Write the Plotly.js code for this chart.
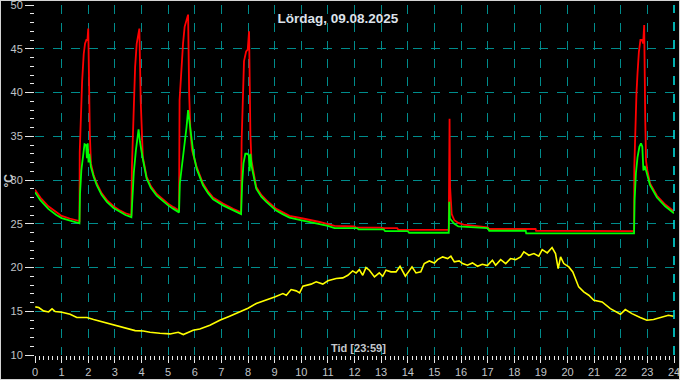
<!DOCTYPE html>
<html>
<head>
<meta charset="utf-8">
<script src="https://cdn.plot.ly/plotly-3.0.1.min.js"></script>
<style>
  html, body { margin: 0; padding: 0; background: #000; }
  #wrap { width: 680px; height: 380px; box-sizing: border-box; border: 1px solid #d4d4d4; background: #000; }
  #chart { width: 678px; height: 378px; }
</style>
</head>
<body>
<div id="wrap"><div id="chart"></div></div>
<script>
// ---- data (hours of day, °C) ----
const titleText = "Lördag, 09.08.2025";
const xLabelText = "Tid [23:59]";
const yLabelText = "°C";

const hourTicks = [0,1,2,3,4,5,6,7,8,9,10,11,12,13,14,15,16,17,18,19,20,21,22,23,24];
const tempTicks = [10,15,20,25,30,35,40,45,50];

const redX = [0.0,0.2,0.5,0.8,1.0,1.3,1.5,1.67,
  1.68,1.72,1.77,1.83,1.88,1.93,1.97,2.0,2.03,2.06,2.1,
  2.2,2.32,2.5,2.7,2.95,3.2,3.4,3.62,
  3.64,3.7,3.76,3.82,3.88,3.92,3.97,4.01,4.05,
  4.19,4.35,4.57,4.8,5.0,5.2,5.41,
  5.43,5.5,5.56,5.62,5.69,5.75,5.79,5.84,5.9,
  6.07,6.31,6.5,6.69,7.06,7.44,7.74,
  7.76,7.8,7.85,7.93,7.99,8.04,8.06,8.09,8.13,
  8.31,8.5,8.69,9.06,9.3,9.56,10.06,10.4,10.69,11.0,
  11.25,12.0,12.05,13.0,13.1,13.6,13.65,15.54,
  15.55,15.57,15.59,15.65,15.75,15.9,16.1,16.5,17.0,
  17.05,18.8,18.82,19.67,19.7,22.5,
  22.51,22.55,22.59,22.63,22.68,22.74,22.8,22.84,22.88,22.92,22.95,23.0,
  23.1,23.36,23.67,24.0];
const redY = [28.9,28.0,27.0,26.3,25.9,25.6,25.4,25.3,
  33.2,38.3,41.3,44.4,45.6,46.0,46.0,47.3,40.6,35.2,31.9,
  30.6,29.6,28.5,27.7,27.0,26.5,26.2,26.0,
  31.5,37.2,42.9,45.6,47.0,47.3,39.1,34.2,32.6,
  30.4,29.3,28.4,27.8,27.3,26.9,26.5,
  39.1,42.9,45.6,47.5,48.4,48.9,39.9,35.3,33.4,
  31.5,29.6,28.7,28.0,27.3,26.7,26.3,
  34.4,40.1,43.6,44.7,44.9,47.0,41.3,35.2,32.2,
  29.2,28.3,27.7,26.7,26.3,25.9,25.6,25.4,25.2,24.95,
  24.75,24.7,24.55,24.55,24.5,24.5,24.3,24.3,
  35.3,37.0,29.2,26.1,25.4,25.1,24.9,24.75,24.6,
  24.4,24.4,24.2,24.2,24.15,24.15,
  31.5,37.2,39.9,42.2,44.6,46.0,46.0,45.6,47.7,36.8,32.2,31.1,
  29.6,28.2,27.2,26.4];

const greenX = [0.0,0.2,0.5,0.8,1.0,1.3,1.5,1.67,
  1.69,1.74,1.8,1.86,1.92,1.95,1.98,2.01,2.04,2.1,
  2.2,2.32,2.5,2.7,2.95,3.2,3.4,3.62,
  3.65,3.71,3.79,3.85,3.89,3.94,4.0,4.05,
  4.19,4.35,4.57,4.8,5.0,5.2,5.41,
  5.44,5.5,5.59,5.69,5.75,5.81,5.88,5.95,
  6.07,6.31,6.5,6.69,7.06,7.44,7.74,
  7.78,7.83,7.9,7.97,8.03,8.06,8.09,8.14,
  8.31,8.5,8.69,9.06,9.3,9.56,10.06,10.4,10.69,11.0,
  11.25,12.1,12.15,13.1,13.15,14.0,14.05,15.54,
  15.56,15.58,15.65,15.75,15.9,16.5,17.0,
  17.06,18.43,18.45,22.5,
  22.52,22.57,22.63,22.7,22.76,22.81,22.85,22.9,22.96,
  23.1,23.36,23.67,24.0];
const greenY = [28.6,27.7,26.7,26.0,25.65,25.35,25.15,25.05,
  28.4,31.1,32.6,34.1,34.0,32.5,34.2,32.0,33.0,31.5,
  30.4,29.4,28.3,27.5,26.8,26.3,26.0,25.75,
  27.7,30.8,33.4,35.3,35.8,34.4,33.2,32.4,
  30.2,29.1,28.2,27.6,27.1,26.7,26.3,
  29.6,31.0,33.4,36.0,38.0,36.4,34.4,33.0,
  31.3,29.4,28.5,27.8,27.1,26.5,26.1,
  29.6,31.9,33.0,33.0,32.8,31.0,33.0,31.5,
  29.0,28.1,27.5,26.5,26.1,25.7,25.35,25.1,24.95,24.75,
  24.5,24.5,24.35,24.35,24.15,24.15,23.97,23.97,
  27.5,25.6,25.3,25.0,24.7,24.55,24.5,
  24.2,24.2,23.9,23.9,
  27.7,30.8,32.6,33.8,34.2,33.8,31.1,31.6,31.0,
  29.4,28.0,27.0,26.2];

const yellowX = [0.01,0.14,0.32,0.51,0.64,0.76,1.01,1.32,1.57,1.95,2.2,2.45,2.82,3.07,3.32,3.57,3.76,
  4.07,4.32,4.69,5.07,5.38,5.57,5.94,6.19,6.57,6.94,7.31,7.69,8.0,8.31,8.69,9.0,9.31,9.44,9.62,9.81,9.94,
  10.06,10.37,10.56,10.81,11.0,11.31,11.56,11.75,11.93,12.06,12.18,12.31,12.43,12.56,12.75,12.93,
  13.06,13.18,13.37,13.56,13.71,13.91,14.06,14.16,14.31,14.49,14.62,14.81,15.0,15.12,15.31,15.5,15.62,
  15.75,15.93,16.06,16.24,16.43,16.62,16.8,16.99,17.18,17.3,17.49,17.68,17.86,18.05,18.24,18.36,18.55,
  18.74,18.92,19.05,19.24,19.42,19.55,19.65,19.74,19.86,20.05,20.2,20.3,20.42,20.61,20.8,20.99,21.3,
  21.61,21.86,21.99,22.17,22.42,22.73,22.98,23.23,23.48,23.79,23.98];
const yellowY = [15.5,15.42,15.04,14.92,15.27,14.96,14.89,14.66,14.28,14.28,14.05,13.86,13.59,13.36,13.2,12.98,12.79,
  12.75,12.6,12.49,12.41,12.6,12.34,12.83,12.98,13.4,13.97,14.43,14.96,15.34,15.88,16.26,16.64,17.02,16.83,17.48,17.33,17.1,
  17.87,18.1,18.36,18.1,18.48,18.74,18.81,19.11,19.61,19.38,19.76,19.11,19.99,19.69,18.92,19.38,
  19.0,19.69,19.5,19.5,20.14,19.0,19.69,20.07,19.38,19.5,20.45,20.75,20.52,20.9,21.21,21.02,21.29,
  20.64,20.75,20.45,20.26,20.52,20.14,20.37,20.22,20.83,20.26,20.9,20.45,21.02,20.9,21.21,21.78,21.4,
  21.59,21.29,22.05,21.67,22.28,21.59,19.88,21.21,20.45,20.07,19.5,18.73,17.78,17.21,16.83,16.26,16.07,
  15.3,14.92,14.66,15.19,14.73,14.28,13.97,14.05,14.28,14.54,14.43];

// ---- chart ----
const tickFont = {family: "Liberation Sans, Arial, sans-serif", size: 11, color: "#c0c4c8"};
const gridCol = "#008c8c";

const traces = [
  {x: yellowX, y: yellowY, type: "scatter", mode: "lines", line: {color: "#ffff00", width: 1.6}, hoverinfo: "skip"},
  {x: redX, y: redY, type: "scatter", mode: "lines", line: {color: "#ff0000", width: 1.8}, hoverinfo: "skip"},
  {x: greenX, y: greenY, type: "scatter", mode: "lines", line: {color: "#00ff00", width: 1.8}, hoverinfo: "skip"}
];

const layout = {
  width: 678, height: 378,
  margin: {l: 34, r: 5, t: 4, b: 24},
  paper_bgcolor: "#000", plot_bgcolor: "#000",
  showlegend: false,
  title: {text: titleText, x: 0.497, xref: "container", y: 0.955, yref: "container", yanchor: "middle",
          font: {family: "Liberation Sans, Arial, sans-serif", size: 13.5, color: "#dde2ea", weight: "bold"}},
  xaxis: {
    range: [0, 24], tickvals: hourTicks, ticktext: hourTicks.map(String),
    ticks: "outside", ticklen: 7, tickwidth: 1, tickcolor: "#e8e8e8",
    tickfont: tickFont, ticklabeloverflow: "allow",
    showgrid: true, gridcolor: gridCol, griddash: "dash", gridwidth: 1,
    zeroline: false, showline: false,
    minor: {dtick: 1/6, ticks: "outside", ticklen: 4, tickcolor: "#e8e8e8", showgrid: false}
  },
  yaxis: {
    range: [10, 50], tickvals: tempTicks, ticktext: tempTicks.map(String),
    ticks: "outside", ticklen: 9, tickwidth: 1, tickcolor: "#e8e8e8",
    tickfont: tickFont, ticklabeloverflow: "allow",
    showgrid: true, gridcolor: gridCol, griddash: "dash", gridwidth: 1,
    zeroline: false, showline: false,
    minor: {dtick: 1, ticks: "outside", ticklen: 4, tickcolor: "#e8e8e8", showgrid: false}
  },
  annotations: [
    {text: xLabelText, xref: "paper", yref: "paper", x: 0.506, y: 0.02, xanchor: "center", yanchor: "middle",
     showarrow: false, font: {family: "Liberation Sans, Arial, sans-serif", size: 11, color: "#c4c8cc", weight: "bold"}},
    {text: yLabelText, xref: "paper", yref: "paper", x: -0.04, y: 0.5, xanchor: "center", yanchor: "middle",
     textangle: -90, showarrow: false, font: {family: "Liberation Sans, Arial, sans-serif", size: 12, color: "#c4c8cc", weight: "bold"}}
  ],
  shapes: [
    {type: "line", xref: "paper", yref: "paper", x0: 1, x1: 1, y0: 0, y1: 1,
     line: {color: "#00e8e8", width: 1.5, dash: "dash"}}
  ]
};

Plotly.newPlot("chart", traces, layout, {displayModeBar: false, staticPlot: true});
</script>
</body>
</html>
